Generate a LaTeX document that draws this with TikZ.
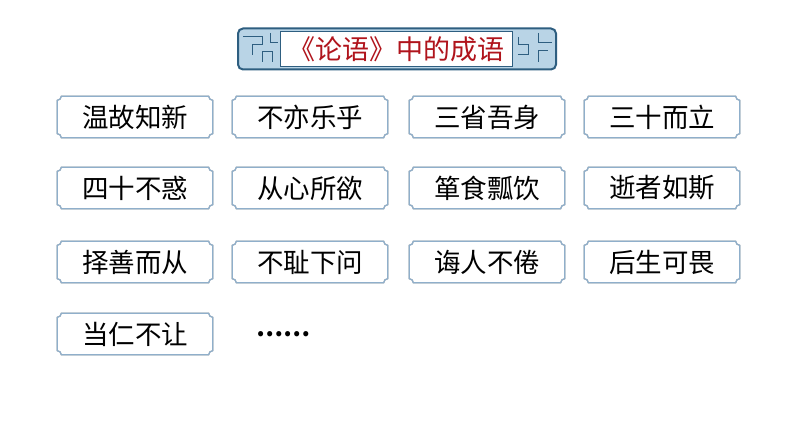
\documentclass[tikz,border=0pt]{standalone}
\usepackage{fontspec}
\setmainfont{Noto Sans CJK SC}
\usetikzlibrary{calc}
\definecolor{cellb}{HTML}{8FAFCB}
\definecolor{dblue}{HTML}{2E5E80}
\definecolor{lblue}{HTML}{B9D4E6}
\definecolor{tred}{HTML}{B0141C}
\begin{document}
\begin{tikzpicture}[x=1pt,y=1pt,
 cell/.style={minimum width=155pt,minimum height=41pt,inner sep=0pt,font=\fontsize{26.5}{26.5}\selectfont},
 notch/.style={line width=1.2pt}]
\useasboundingbox (0,0) rectangle (794,447);
\fill[white] (0,0) rectangle (794,447);
% title
\node[draw=dblue,line width=2pt,fill=lblue,rounded corners=5pt,minimum width=318pt,minimum height=41pt,inner sep=0pt] (tbox) at (397,398) {};
\node[fill=white,draw=dblue,line width=1pt,minimum width=232pt,minimum height=35pt,inner sep=0pt,text=tred,font=\fontsize{27}{27}\selectfont] (title) at (396,398) {《论语》中的成语};
\draw[dblue,line width=1pt] (243,410)--(262,410)--(262,402)--(252,402)--(252,392) (262,385)--(262,395)--(272,395)--(272,385) (270,414)--(270,404)--(278,404);
\draw[dblue,line width=1pt] (518,410)--(518,402)--(528,402)--(528,392)--(518,392) (538,414)--(538,404)--(552,404) (538,385)--(538,396)--(548,396);
\def\xs{{135,310,487,662}}
\def\ys{{117,188,262,334}}
\foreach \t [count=\i from 0] in {温故知新,不亦乐乎,三省吾身,三十而立,四十不惑,从心所欲,箪食瓢饮,逝者如斯,择善而从,不耻下问,诲人不倦,后生可畏,当仁不让}{
  \pgfmathsetmacro\cx{\xs[mod(\i,4)]}
  \pgfmathsetmacro\cy{447-\ys[int(\i/4)]}
  \node[cell] (c\i) at (\cx,\cy) {};
  \foreach \s/\col in {{(1.8,-1.8)}/black!35,{(0,0)}/cellb}{
  \draw[notch,draw=\col,shift=\s] let \p1=(c\i.south west), \p2=(c\i.north east) in
   (\x1+4,\y2) -- (\x2-4,\y2) arc[start angle=180,end angle=270,radius=4]
   -- (\x2,\y1+4) arc[start angle=90,end angle=180,radius=4]
   -- (\x1+4,\y1) arc[start angle=0,end angle=90,radius=4]
   -- (\x1,\y2-4) arc[start angle=-90,end angle=0,radius=4] -- cycle;}
  \node[cell] at (c\i) {\t};
}
\node[font=\fontsize{24}{24}\selectfont\bfseries] (dots) at (283,447-334) {……};
\end{tikzpicture}
\end{document}
